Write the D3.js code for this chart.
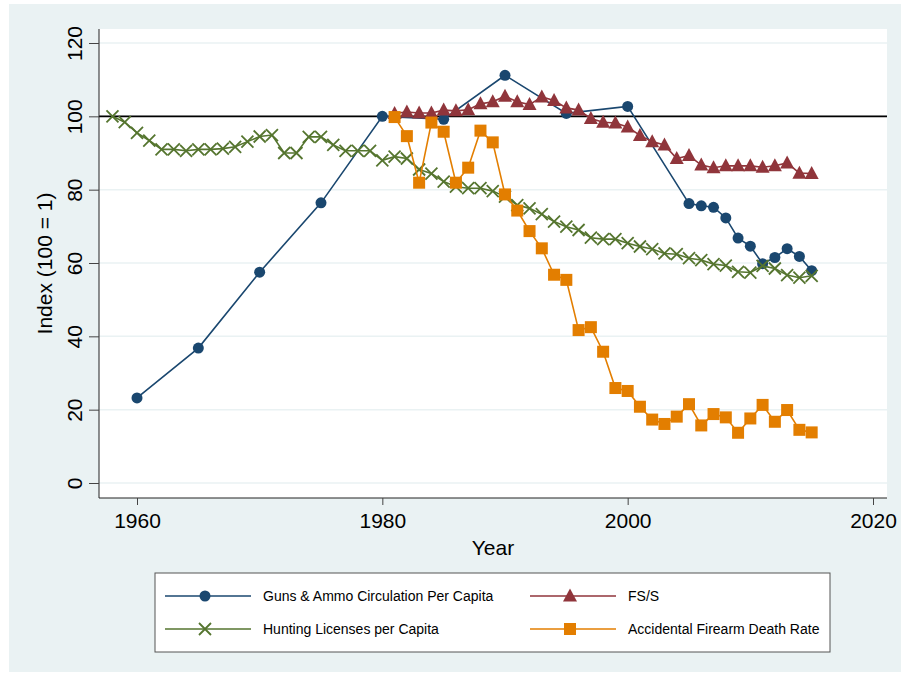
<!DOCTYPE html>
<html>
<head>
<meta charset="utf-8">
<script src="https://cdn.jsdelivr.net/npm/d3@7"></script>
<style>
  body { margin: 0; background: #fff; }
  svg { display: block; font-family: "Liberation Sans", Arial, sans-serif; }
</style>
</head>
<body>
<div id="chart"></div>
<script>
// data
const gunsYears = [1960, 1965, 1970, 1975, 1980, 1985, 1990, 1995, 2000, 2005, 2006, 2007, 2008, 2009, 2010, 2011, 2012, 2013, 2014, 2015]
const gunsValues = [23.2, 36.8, 57.5, 76.4, 100, 99.2, 111.2, 100.8, 102.7, 76.2, 75.6, 75.2, 72.3, 66.8, 64.6, 59.8, 61.5, 63.9, 61.8, 57.9]

const fssYears = d3.range(1981, 2016)
const fssValues = [100.8, 101.2, 100.9, 100.9, 101.7, 101.5, 101.8, 103.4, 104, 105.5, 104, 103.2, 105.3, 104.3, 102.3, 101.7, 99.4, 98.4, 98.2, 97.1,
  94.8, 93.1, 92.2, 88.5, 89.3, 86.7, 86, 86.5, 86.5, 86.5, 86.1, 86.5, 87.3, 84.5, 84.4]

const huntYears = d3.range(1958, 2016)
const huntValues = [100, 98.4, 95.5, 93.4, 91, 91, 90.6, 91, 91, 91.2, 91.7, 93.1, 94.5, 94.9, 90, 90, 94.4, 94.4, 92.2, 90.6,
  90.6, 90.6, 88, 89, 88.5, 85.5, 84.4, 82.2, 80.8, 80.4, 80.4, 79.6, 78.1, 75.8, 74.9, 73.3, 71.3, 69.9, 69, 66.9,
  66.5, 66.5, 65.4, 64.5, 63.8, 62.6, 62.4, 61.3, 60.8, 59.7, 59.3, 57.6, 57.4, 59.2, 58.5, 56.7, 56, 56.5]

const deathYears = d3.range(1981, 2016)
const deathValues = [99.8, 94.6, 81.9, 98.3, 95.8, 81.9, 86, 96.1, 92.9, 78.7, 74.3, 68.7, 64, 56.8, 55.4, 41.7, 42.5, 35.8, 25.9, 25.1,
  20.8, 17.3, 16.1, 18.1, 21.5, 15.7, 18.8, 17.9, 13.7, 17.6, 21.3, 16.7, 19.9, 14.5, 13.8]

const xTicks = [1960, 1980, 2000, 2020]
const yTicks = [0, 20, 40, 60, 80, 100, 120]

const series = [
  {name: "Guns & Ammo Circulation Per Capita", years: gunsYears, values: gunsValues, color: "#1a476f", marker: "circle"},
  {name: "FS/S", years: fssYears, values: fssValues, color: "#90353b", marker: "triangle"},
  {name: "Hunting Licenses per Capita", years: huntYears, values: huntValues, color: "#55752f", marker: "cross"},
  {name: "Accidental Firearm Death Rate", years: deathYears, values: deathValues, color: "#e37e00", marker: "square"}
]

const width = 901, height = 676
const plot = {left: 99, right: 887, top: 29, bottom: 498}

const svg = d3.select("#chart").append("svg")
  .attr("width", width).attr("height", height)

svg.append("rect").attr("x", 9).attr("y", 4).attr("width", 892).attr("height", 668)
  .attr("fill", "#eaf2f3")

svg.append("rect").attr("x", plot.left).attr("y", plot.top)
  .attr("width", plot.right - plot.left).attr("height", plot.bottom - plot.top)
  .attr("fill", "#fff")

const x = d3.scaleLinear().domain([1960, 2020]).range([137, 873])
const y = d3.scaleLinear().domain([0, 120]).range([483, 43])

// gridlines
svg.append("g").selectAll("line").data(yTicks).join("line")
  .attr("x1", plot.left).attr("x2", plot.right)
  .attr("y1", d => y(d)).attr("y2", d => y(d))
  .attr("stroke", "#eaf2f3").attr("stroke-width", 1.5)

// reference line at 100
svg.append("line")
  .attr("x1", plot.left).attr("x2", plot.right)
  .attr("y1", y(100)).attr("y2", y(100))
  .attr("stroke", "#000").attr("stroke-width", 1.8)

// axes
const yAxis = svg.append("g").attr("transform", `translate(${plot.left},0)`)
  .call(d3.axisLeft(y).tickValues(yTicks).tickSize(10).tickPadding(0).tickFormat(d3.format("d")))
yAxis.select(".domain").attr("d", `M0,${plot.top}V${plot.bottom}`).attr("stroke", "#222")
yAxis.selectAll(".tick line").attr("stroke", "#444")
yAxis.selectAll(".tick text")
  .attr("transform", "translate(-24,0) rotate(-90)")
  .attr("x", 0).attr("dy", "0.35em")
  .attr("text-anchor", "middle")
  .attr("font-size", 21).attr("fill", "#000")

const xAxis = svg.append("g").attr("transform", `translate(0,${plot.bottom})`)
  .call(d3.axisBottom(x).tickValues(xTicks).tickSize(7).tickPadding(8).tickFormat(d3.format("d")))
xAxis.select(".domain").attr("d", `M${plot.left},0H${plot.right}`).attr("stroke", "#222")
xAxis.selectAll(".tick line").attr("stroke", "#444")
xAxis.selectAll(".tick text").attr("font-size", 21).attr("fill", "#000")
xAxis.selectAll("text").attr("font-family", null)
yAxis.selectAll("text").attr("font-family", null)
xAxis.attr("font-family", null)
yAxis.attr("font-family", null)

svg.append("text").attr("x", (plot.left + plot.right) / 2).attr("y", 555)
  .attr("text-anchor", "middle").attr("font-size", 21).text("Year")

svg.append("text")
  .attr("transform", `translate(52,${(plot.top + plot.bottom) / 2}) rotate(-90)`)
  .attr("text-anchor", "middle").attr("font-size", 21).text("Index (100 = 1)")

// markers
function drawMarker(g, type, color) {
  if (type === "circle") {
    g.append("circle").attr("r", 5.5).attr("fill", color)
  } else if (type === "triangle") {
    g.append("path").attr("d", "M0,-7.5L7,5.5L-7,5.5Z").attr("fill", color)
  } else if (type === "square") {
    g.append("rect").attr("x", -6).attr("y", -6).attr("width", 12).attr("height", 12).attr("fill", color)
  } else if (type === "cross") {
    g.append("path").attr("d", "M-6,-6L6,6M-6,6L6,-6").attr("stroke", color).attr("stroke-width", 1.8).attr("fill", "none")
  }
}

const line = d3.line().x(d => x(d[0])).y(d => y(d[1]))

series.forEach(s => {
  const pts = s.years.map((yr, i) => [yr, s.values[i]])
  const g = svg.append("g")
  g.append("path").datum(pts).attr("d", line)
    .attr("fill", "none").attr("stroke", s.color).attr("stroke-width", 1.6)
  g.selectAll("g.pt").data(pts).join("g").attr("class", "pt")
    .attr("transform", d => `translate(${x(d[0])},${y(d[1])})`)
    .each(function() { drawMarker(d3.select(this), s.marker, s.color) })
})

// legend
const legend = svg.append("g")
legend.append("rect").attr("x", 155).attr("y", 573).attr("width", 675).attr("height", 79)
  .attr("fill", "#fff").attr("stroke", "#555").attr("stroke-width", 1)

const legendPos = [[165, 596], [530, 596], [165, 629], [530, 629]]
series.forEach((s, i) => {
  const [lx, ly] = legendPos[i]
  const g = legend.append("g").attr("transform", `translate(${lx},${ly})`)
  g.append("line").attr("x1", 0).attr("x2", 86).attr("y1", 0).attr("y2", 0)
    .attr("stroke", s.color).attr("stroke-width", 1.6)
  drawMarker(g.append("g").attr("transform", "translate(40,0)"), s.marker, s.color)
  g.append("text").attr("x", 98).attr("y", 0).attr("dy", "0.35em")
    .attr("font-size", 14).text(s.name)
})
</script>
</body>
</html>
